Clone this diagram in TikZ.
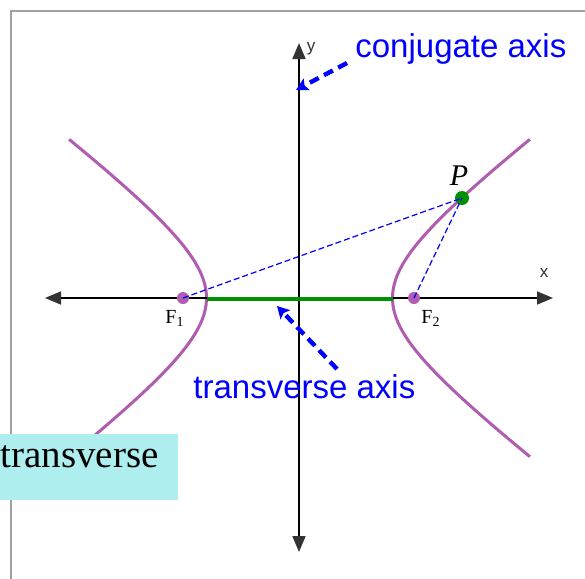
\documentclass[tikz,border=0pt]{standalone}
\usepackage{fontspec}
\setmainfont{Liberation Serif}
\newfontfamily\arialf{Liberation Sans}
\usetikzlibrary{arrows.meta}
\definecolor{hypc}{RGB}{176,92,176}
\definecolor{grn}{RGB}{0,145,0}
\definecolor{axc}{RGB}{51,51,51}
\definecolor{boxc}{RGB}{175,238,238}
\definecolor{framec}{RGB}{160,160,160}
\begin{document}
\begin{tikzpicture}[x=0.5pt,y=-0.5pt,
  axis/.style={line width=0.85pt,draw=black,{Triangle[length=8pt,width=6.5pt,color=axc]}-{Triangle[length=8pt,width=6.5pt,color=axc]}},
  hyp/.style={line width=1.5pt,draw=hypc},
  focusdot/.style={circle,fill=hypc,inner sep=0pt,minimum size=6pt},
  pdot/.style={circle,fill=grn,inner sep=0pt,minimum size=7pt},
  thinblue/.style={draw=blue,line width=0.6pt,dash pattern=on 3pt off 1.5pt},
  bigarrow/.style={draw=blue,line width=2.2pt,dash pattern=on 5pt off 3pt,-{Stealth[length=6pt,width=6.5pt,inset=1.2pt]}},
  bluelbl/.style={font=\arialf\fontsize{16.5}{18}\selectfont,text=blue,inner sep=0pt},
  axlbl/.style={font=\arialf\fontsize{8.5}{10}\selectfont,text=axc,inner sep=0pt},
  flbl/.style={font=\fontsize{10}{11}\selectfont,inner sep=0pt}]
\useasboundingbox (0,0) rectangle (585,579);
% frame
\draw[framec,line width=0.7pt] (11,579) -- (11,11) -- (585,11);
% hyperbola
\draw[hyp] plot[domain=-1.557:1.557,samples=80,variable=\t] ({299.5+93*cosh(\t)},{298-70*sinh(\t)});
\draw[hyp] plot[domain=-1.557:1.557,samples=80,variable=\t] ({299.5-93*cosh(\t)},{298-70*sinh(\t)});
% axes
\coordinate (xl) at (45,298);
\coordinate (xr) at (553,298);
\coordinate (yt) at (299,43);
\coordinate (yb) at (299,552);
\draw[axis] (xl) -- (xr);
\draw[axis] (yb) -- (yt);
\node[axlbl] (ylab) at (311,49) {y};
\node[axlbl] (xlab) at (544,273) {x};
% transverse segment
\coordinate (v1) at (206.5,299);
\coordinate (v2) at (392.5,299);
\draw[grn,line width=2.4pt] (v1) -- (v2);
% foci and P
\node[focusdot] (F1) at (183,298) {};
\node[focusdot] (F2) at (414,298) {};
\node[pdot] (P) at (462,198) {};
\draw[thinblue] (F1.center) -- (P.center);
\draw[thinblue] (F2.center) -- (P.center);
\node[flbl,anchor=base west] (F1l) at (165,323) {F\textsubscript{1}};
\node[flbl,anchor=base west] (F2l) at (421,323) {F\textsubscript{2}};
\node[font=\fontsize{15}{16}\selectfont\itshape,inner sep=0pt,anchor=base] (Pl) at (459,185) {P};
% labels and blue arrows
\node[bluelbl,anchor=base west] (conj) at (355,57) {conjugate axis};
\node[bluelbl,anchor=base west] (trans) at (193,398) {transverse axis};
\coordinate (ca1) at (347,63);
\coordinate (ca2) at (296,90);
\coordinate (ta1) at (337,369);
\coordinate (ta2) at (277,306);
\draw[bigarrow] (ca1) -- (ca2);
\draw[bigarrow] (ta1) -- (ta2);
% box
\fill[boxc] (-2,434) rectangle (178,500);
\node[font=\fontsize{19.5}{21}\selectfont,inner sep=0pt,anchor=base west] (tbox) at (0,467) {transverse};
\end{tikzpicture}
\end{document}
